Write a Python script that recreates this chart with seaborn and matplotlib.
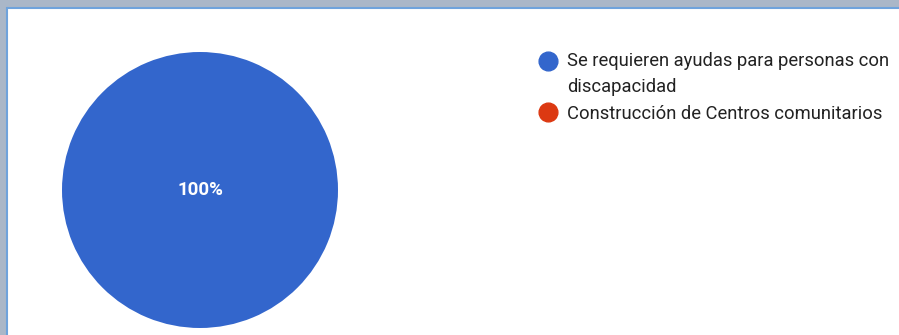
import matplotlib
matplotlib.use("Agg")
import matplotlib.pyplot as plt
from matplotlib.patches import Rectangle
from matplotlib.lines import Line2D
from matplotlib.legend_handler import HandlerLine2D
import seaborn as sns

categories = ["Se requieren ayudas para personas con\ndiscapacidad",
              "Construcción de Centros comunitarios"]
values = [100, 0]
colors = ["#3366cc", "#dc3912"]

sns.set_theme(style="white")
plt.rcParams["font.family"] = ["Roboto", "DejaVu Sans"]
palette = sns.color_palette(colors)

W, H = 899, 335
fig = plt.figure(figsize=(W / 100, H / 100), dpi=100)
fig.patch.set_facecolor("#aab7c8")

# white panel and blue frame
fig.add_artist(Rectangle((7 / W, 0), 1 - 7 / W, (H - 8) / H,
                         transform=fig.transFigure, facecolor="white",
                         edgecolor="none", zorder=0))
fig.add_artist(Line2D([6.5 / W, 6.5 / W], [0, (H - 7.5) / H],
                      transform=fig.transFigure, color="#6fa3dc", lw=1.5))
fig.add_artist(Line2D([6.5 / W, 1], [(H - 7.5) / H, (H - 7.5) / H],
                      transform=fig.transFigure, color="#6fa3dc", lw=1.5))

cx, cy, r = 200, 190, 138
ax = fig.add_axes([(cx - r) / W, (H - cy - r) / H, 2 * r / W, 2 * r / H])
wedges, texts, autotexts = ax.pie(
    values, colors=palette, startangle=90, counterclock=False,
    autopct=lambda p: f"{p:.0f}%" if p > 0 else "", pctdistance=0.0,
    radius=1, wedgeprops=dict(linewidth=0),
    textprops=dict(color="white", fontsize=13.5, fontweight="bold"))
ax.set_xlim(-1, 1)
ax.set_ylim(-1, 1)
ax.set_aspect("equal")
ax.axis("off")


class TopHandler(HandlerLine2D):
    """Place the marker next to the first line of a wrapped label."""
    def __init__(self, dy, **kw):
        super().__init__(**kw)
        self.dy = dy

    def create_artists(self, legend, orig_handle, xdescent, ydescent,
                       width, height, fontsize, trans):
        return super().create_artists(legend, orig_handle, xdescent,
                                      ydescent - 2 * self.dy, width, height,
                                      fontsize, trans)


handles = [Line2D([0], [0], marker="o", linestyle="none", markersize=13.5,
                  markerfacecolor=c, markeredgecolor=c) for c in palette]
leg = fig.legend(handles, categories, loc="upper left",
                 bbox_to_anchor=(538.5 / W, (H - 52) / H),
                 frameon=False, fontsize=13.2, handlelength=1.05,
                 handletextpad=0.5, labelspacing=0.5, borderpad=0,
                 borderaxespad=0,
                 handler_map={handles[0]: TopHandler(9.6)})
for t in leg.get_texts():
    t.set_color("#222222")
    t.set_linespacing(1.55)

fig.savefig("out.png", dpi=100, facecolor=fig.get_facecolor())
